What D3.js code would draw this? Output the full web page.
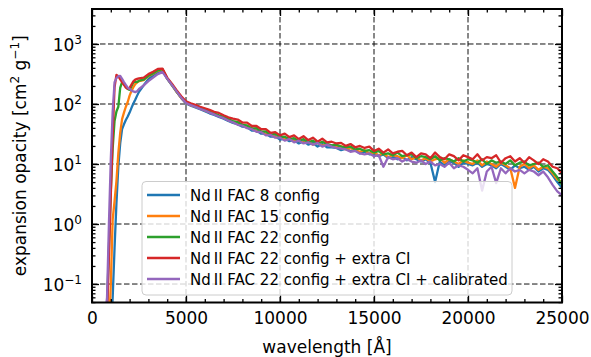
<!DOCTYPE html>
<html>
<head>
<meta charset="utf-8">
<script src="https://cdn.jsdelivr.net/npm/d3@7"></script>
<style>
  body { margin: 0; background: #fff; }
  text { font-family: "DejaVu Sans", sans-serif; fill: #000; }
</style>
</head>
<body>
<svg id="chart" width="591" height="357"></svg>
<script>
// wavelength grid (Å), shared by all series
const wavelength = [
  600,700,800,900,1000,1100,1200,1300,1400,1500,1600,1700,1800,1900,2000,2100,2200,2300,2400,2500,
  2750,3000,3250,3500,3750,4000,4250,4500,4750,5000,
  5250,5500,5750,6000,6250,6500,6750,7000,7250,7500,
  7750,8000,8250,8500,8750,9000,9250,9500,9750,10000,
  10250,10500,10750,11000,11250,11500,11750,12000,12250,12500,
  12750,13000,13250,13500,13750,14000,14250,14500,14750,15000,
  15250,15500,15750,16000,16250,16500,16750,17000,17250,17500,
  17750,18000,18250,18500,18750,19000,19250,19500,19750,20000,
  20250,20500,20750,21000,21250,21500,21750,22000,22250,22500,
  22750,23000,23250,23500,23750,24000,24250,24500,24750,25000
];

// expansion opacity (cm^2 g^-1)
const fac8 = [
  0.01,0.01,0.01,0.01,0.015,0.06,0.4,2.2,9,22,38,46,54,62,72,86,102,118,138,160,
  205,260,300,340,365,262,205,160,125,102,
  94,88,82,76,70,66,61,57,52,48.5,
  46,42,41,36,36,32,32,28.5,29,25.5,
  26.5,24,25,22,24,21,22.5,19.5,21.5,19,
  19,18.5,17,18,16.5,17,15,16,14.5,15,
  13.5,14.5,12.5,13.5,12,13,11.5,13,12,11,
  12,10.5,5,11,9.5,11,10.5,9,10.5,10,
  9.5,10.5,9,10,9.5,8.5,10,9,8,9.5,
  8.5,9,8,9,7.5,8.5,8,6.5,5,4
];
const fac15 = [
  0.01,0.01,0.01,0.015,0.1,1.2,2.4,5.2,15,33,56,72,90,108,138,165,190,215,230,240,
  250,290,320,358,375,265,208,160,126,104,
  96,90,84,78,73,68,63,59,54,50.5,
  46,45,40,40,35,35,31,31.5,28,28.5,
  26,27,23.5,25.5,22.5,24,21,23,20,21.5,
  20,19,20,17.5,18.5,17,16,17,15,15.5,
  14,15,13,14,13.5,12.5,14,12,13,11.5,
  12.5,11,12,12.5,10.5,12,11,10,11.5,10.5,
  10,11.5,9.5,11,10,9,10.5,9.5,8.5,4,
  9,10,8.5,9.5,8,9,8.5,7,5.5,5
];
const fac22 = [
  0.01,0.015,0.04,0.4,3.5,18,52,75,90,185,232,215,192,178,172,198,228,236,232,245,
  255,295,325,365,380,268,210,162,128,106,
  99,92,86,80,75,70,65,61,56,52,
  50,45,44,39,39.5,34.5,35,30.5,32,28,
  28.5,26,27,24,26,23,24.5,22,23.5,21.5,
  20.5,21,19.5,19,19.5,17.5,18,16.5,17,15.5,
  16.5,14.5,15,14,15.5,13.5,14,14.5,12.5,13.5,
  13,12,13.5,11.5,12.5,12,11,12.5,11,12,
  11.5,10.5,12,10,11.5,10.5,11,10,11.5,9.5,
  10.5,11,9.5,10,10.5,9,9.5,7.5,6,4.5
];
const fac22ci = [
  0.01,0.015,0.03,0.3,3,30,190,305,290,258,232,208,188,180,186,210,238,255,262,268,
  275,315,345,385,390,275,218,170,135,111,
  103,97,90,85,80,74,71,65,60,57,
  55,49,49,43,43,38,38,33,34,30,
  32,28,30,26,29,25,27.5,23.5,26.5,23,
  23.5,22,22.5,20,21.5,19,20,18.5,19.5,16.5,
  18,15.5,17.5,15,16,16.5,14,15.5,13,15,
  14.5,12.5,15.5,13,12,14.5,13.5,11.5,14,13,
  12,14.5,11.5,13,12.5,14,10.5,12.5,13.5,11,
  12.5,10.5,13,11.5,10,12,11,9,8.5,7
];
const fac22ciCal = [
  0.02,0.03,0.06,1.0,12,75,230,270,290,293,262,232,208,188,178,168,162,158,163,178,
  205,240,275,315,340,265,208,162,127,104,
  96,90,83,78,72,67,62,58,53,49.5,
  45,43.5,39.5,38,34.5,34,30,30.5,27.5,27.5,
  24.5,26,23,24.5,22,23,21,22.5,19.5,21,
  19.5,18.5,18,17.5,16,16.5,15,14.5,15,13.5,
  14,9,13,12,12.5,11,12,11,10.5,11.5,
  10,11,9.5,10,9,10.5,8.5,9.5,9,8,
  7,8.5,3.6,7.5,9,4.8,8.5,7,8.5,7.5,
  8,7,8,7.5,6.5,7.5,6,4.5,3.5,3
];

const seriesNames = [
  "Nd\u2009II FAC 8 config",
  "Nd\u2009II FAC 15 config",
  "Nd\u2009II FAC 22 config",
  "Nd\u2009II FAC 22 config + extra CI",
  "Nd\u2009II FAC 22 config + extra CI + calibrated"
];
const seriesValues = [fac8, fac15, fac22, fac22ci, fac22ciCal];
const seriesColors = ["#1f77b4", "#ff7f0e", "#2ca02c", "#d62728", "#9467bd"];

const xTicks = [0, 5000, 10000, 15000, 20000, 25000];
const yExponents = [-1, 0, 1, 2, 3];

const margin = {top: 9, right: 29, bottom: 54.5, left: 92};
const width = 591 - margin.left - margin.right;
const height = 357 - margin.top - margin.bottom;

const svg = d3.select('#chart')
    .append('g')
    .attr('transform', 'translate(' + margin.left + ',' + margin.top + ')');

const x = d3.scaleLinear().domain([0, 25000]).range([0, width]);
const y = d3.scaleLog().domain([0.0492, 3830]).range([height, 0]);

const yMajor = yExponents.map(e => Math.pow(10, e));
const yMinor = [];
for (let e = -2; e <= 3; e++) {
  for (let k = 2; k <= 9; k++) {
    const v = k * Math.pow(10, e);
    if (v > y.domain()[0] && v < y.domain()[1]) yMinor.push(v);
  }
}
const xMinor = d3.range(0, 25001, 1000).filter(v => v % 5000 !== 0);

svg.append('clipPath').attr('id', 'clip')
  .append('rect').attr('width', width).attr('height', height);

// grid
const grid = svg.append('g').attr('stroke', '#111').attr('stroke-width', 1)
    .attr('stroke-dasharray', '5.5,2.5');
grid.selectAll('.gx').data(xTicks.slice(1, -1)).enter().append('line')
    .attr('x1', d => x(d)).attr('x2', d => x(d)).attr('y1', 0).attr('y2', height);
grid.selectAll('.gy').data(yMajor).enter().append('line')
    .attr('y1', d => y(d)).attr('y2', d => y(d)).attr('x1', 0).attr('x2', width);

// lines
const line = d3.line()
    .x((d, i) => x(wavelength[i]))
    .y(d => y(d));
svg.append('g').attr('clip-path', 'url(#clip)')
  .selectAll('path').data(seriesValues).enter().append('path')
    .attr('d', d => line(d))
    .attr('fill', 'none')
    .attr('stroke', (d, i) => seriesColors[i])
    .attr('stroke-width', 2.3)
    .attr('stroke-linejoin', 'round');

// axes, ticks pointing in
function styleAxis(g) {
  g.select('.domain').remove();
  g.selectAll('.tick line').attr('stroke', '#000').attr('stroke-width', 1.3);
  g.selectAll('text').style('font-size', '17px').style('font-family', '"DejaVu Sans", sans-serif');
}
svg.append('g').attr('transform', 'translate(0,' + height + ')')
    .call(d3.axisBottom(x).tickValues(xTicks).tickSizeInner(-7).tickPadding(9).tickFormat(d3.format('d')))
    .call(styleAxis);
svg.append('g').attr('transform', 'translate(0,' + height + ')')
    .call(d3.axisBottom(x).tickValues(xMinor).tickSizeInner(-3.5).tickFormat(''))
    .call(styleAxis);
svg.append('g')
    .call(d3.axisTop(x).tickValues(xTicks).tickSizeInner(-7).tickFormat(''))
    .call(styleAxis);
svg.append('g')
    .call(d3.axisTop(x).tickValues(xMinor).tickSizeInner(-3.5).tickFormat(''))
    .call(styleAxis);
svg.append('g')
    .call(d3.axisLeft(y).tickValues(yMajor).tickSizeInner(-7).tickFormat(''))
    .call(styleAxis);
svg.append('g')
    .call(d3.axisLeft(y).tickValues(yMinor).tickSizeInner(-3.5).tickFormat(''))
    .call(styleAxis);
svg.append('g').attr('transform', 'translate(' + width + ',0)')
    .call(d3.axisRight(y).tickValues(yMajor).tickSizeInner(-7).tickFormat(''))
    .call(styleAxis);
svg.append('g').attr('transform', 'translate(' + width + ',0)')
    .call(d3.axisRight(y).tickValues(yMinor).tickSizeInner(-3.5).tickFormat(''))
    .call(styleAxis);

// y tick labels 10^n
const yLab = svg.append('g').selectAll('text').data(yExponents).enter().append('text')
    .attr('x', -10)
    .attr('y', d => y(Math.pow(10, d)) + 7)
    .attr('text-anchor', 'end')
    .style('font-size', '17px');
yLab.append('tspan').text('10');
yLab.append('tspan').attr('dy', -7).style('font-size', '12px')
    .text(d => d < 0 ? '\u2212' + Math.abs(d) : d);

// frame
svg.append('rect').attr('width', width).attr('height', height)
    .attr('fill', 'none').attr('stroke', '#000').attr('stroke-width', 2);

// axis titles
svg.append('text')
    .attr('x', width / 2).attr('y', height + 50)
    .attr('text-anchor', 'middle').style('font-size', '17px')
    .text('wavelength [Å]');
const yTitle = svg.append('text')
    .attr('transform', 'translate(' + (-66) + ',' + (height / 2) + ') rotate(-90)')
    .attr('text-anchor', 'middle').style('font-size', '17px');
yTitle.append('tspan').text('expansion opacity [cm');
yTitle.append('tspan').attr('dy', -7).style('font-size', '12px').text('2');
yTitle.append('tspan').attr('dy', 7).text(' g');
yTitle.append('tspan').attr('dy', -7).style('font-size', '12px').text('\u22121');
yTitle.append('tspan').attr('dy', 7).text(']');

// legend
const legend = svg.append('g').attr('transform', 'translate(50,' + (height - 121) + ')');
legend.append('rect')
    .attr('width', 370).attr('height', 113.5).attr('rx', 4)
    .attr('fill', '#fff').attr('fill-opacity', 0.8)
    .attr('stroke', '#ccc').attr('stroke-width', 1);
const item = legend.selectAll('.item').data(seriesNames).enter().append('g')
    .attr('transform', (d, i) => 'translate(0,' + (13.5 + i * 21) + ')');
item.append('line')
    .attr('x1', 5).attr('x2', 38).attr('y1', 0).attr('y2', 0)
    .attr('stroke', (d, i) => seriesColors[i]).attr('stroke-width', 2.3);
item.append('text')
    .attr('x', 48).attr('y', 5.5)
    .style('font-size', '15px')
    .text(d => d);
</script>
</body>
</html>
